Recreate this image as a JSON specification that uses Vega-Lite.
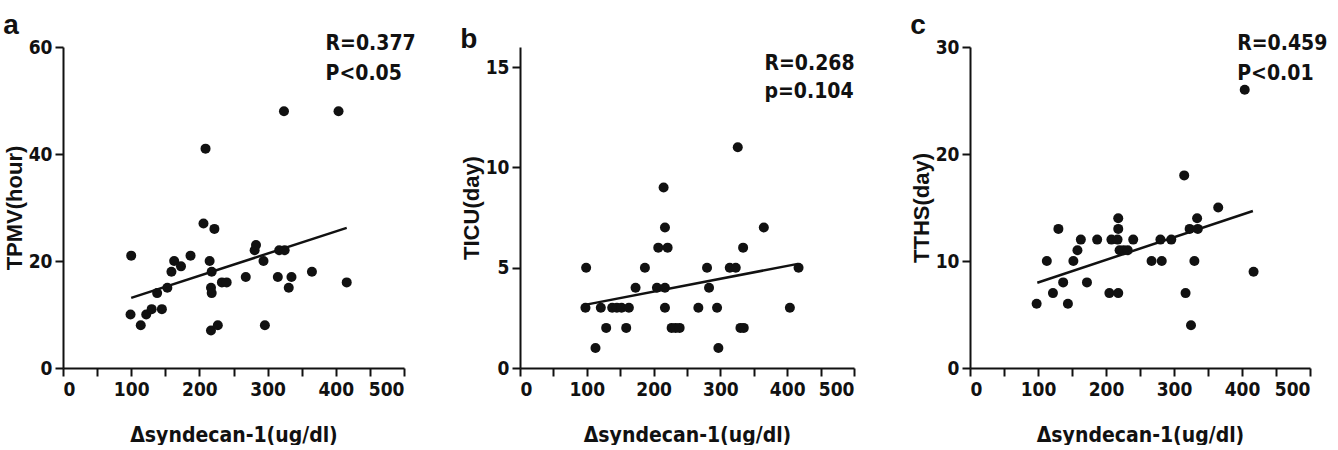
{
  "$schema": "https://vega.github.io/schema/vega-lite/v6.json",
  "background": "white",
  "padding": {"left": 3, "top": 11, "right": 5, "bottom": 0},
  "bounds": "flush",
  "spacing": 116,
  "config": {
    "view": {"stroke": null},
    "font": "DejaVu Sans Condensed, Liberation Sans, sans-serif",
    "axis": {
      "grid": false,
      "domainColor": "#111",
      "domainWidth": 2,
      "tickColor": "#111",
      "tickWidth": 2,
      "tickSize": 8,
      "labelFont": "DejaVu Sans Condensed, Liberation Sans, sans-serif",
      "labelFontWeight": "bold",
      "labelFontSize": 19,
      "labelColor": "#111",
      "titleFont": "DejaVu Sans Condensed, Liberation Sans, sans-serif",
      "titleFontWeight": "bold",
      "titleFontSize": 21,
      "titleColor": "#111"
    },
    "axisX": {"labelPadding": 4, "titlePadding": 25, "values": [0, 100, 200, 300, 400, 500]},
    "axisY": {"labelPadding": 3, "titlePadding": 2, "titleFont": "Liberation Sans, sans-serif", "titleFontSize": 22},
    "title": {"font": "Liberation Sans, sans-serif", "fontSize": 28, "fontWeight": "bold", "anchor": "start", "color": "#111", "offset": -7, "baseline": "alphabetic"}
  },
  "datasets": {
    "a": [
      {"x": 100, "y": 21}, {"x": 99, "y": 10}, {"x": 114, "y": 8}, {"x": 122, "y": 10}, {"x": 130, "y": 11},
      {"x": 138, "y": 14}, {"x": 145, "y": 11}, {"x": 153, "y": 15}, {"x": 159, "y": 18}, {"x": 163, "y": 20},
      {"x": 173, "y": 19}, {"x": 187, "y": 21}, {"x": 206, "y": 27}, {"x": 209, "y": 41}, {"x": 215, "y": 20},
      {"x": 218, "y": 18}, {"x": 217, "y": 15}, {"x": 218, "y": 14}, {"x": 222, "y": 26}, {"x": 217, "y": 7},
      {"x": 227, "y": 8}, {"x": 233, "y": 16}, {"x": 240, "y": 16}, {"x": 268, "y": 17}, {"x": 281, "y": 22},
      {"x": 283, "y": 23}, {"x": 294, "y": 20}, {"x": 296, "y": 8}, {"x": 315, "y": 17}, {"x": 317, "y": 22},
      {"x": 325, "y": 22}, {"x": 324, "y": 48}, {"x": 331, "y": 15}, {"x": 335, "y": 17}, {"x": 365, "y": 18},
      {"x": 404, "y": 48}, {"x": 416, "y": 16}
    ],
    "a_line": [{"x": 100, "y": 13.1}, {"x": 416, "y": 26.2}],
    "a_txt": [{"x": 385, "y": 60.6, "label": "R=0.377"}, {"x": 385, "y": 55.0, "label": "P<0.05"}],
    "b": [
      {"x": 99, "y": 5}, {"x": 98, "y": 3}, {"x": 113, "y": 1}, {"x": 121, "y": 3}, {"x": 129, "y": 2},
      {"x": 138, "y": 3}, {"x": 145, "y": 3}, {"x": 152, "y": 3}, {"x": 159, "y": 2}, {"x": 163, "y": 3},
      {"x": 173, "y": 4}, {"x": 187, "y": 5}, {"x": 205, "y": 4}, {"x": 207, "y": 6}, {"x": 215, "y": 9},
      {"x": 217, "y": 7}, {"x": 217, "y": 4}, {"x": 217, "y": 3}, {"x": 221, "y": 6}, {"x": 227, "y": 2},
      {"x": 233, "y": 2}, {"x": 239, "y": 2}, {"x": 267, "y": 3}, {"x": 280, "y": 5}, {"x": 283, "y": 4},
      {"x": 295, "y": 3}, {"x": 297, "y": 1}, {"x": 314, "y": 5}, {"x": 323, "y": 5}, {"x": 326, "y": 11},
      {"x": 330, "y": 2}, {"x": 335, "y": 2}, {"x": 334, "y": 6}, {"x": 365, "y": 7}, {"x": 404, "y": 3},
      {"x": 417, "y": 5}
    ],
    "b_line": [{"x": 99, "y": 3.16}, {"x": 416, "y": 5.19}],
    "b_txt": [{"x": 366, "y": 15.14, "label": "R=0.268"}, {"x": 366, "y": 13.74, "label": "p=0.104"}],
    "c": [
      {"x": 98, "y": 6}, {"x": 113, "y": 10}, {"x": 122, "y": 7}, {"x": 130, "y": 13}, {"x": 137, "y": 8},
      {"x": 144, "y": 6}, {"x": 152, "y": 10}, {"x": 158, "y": 11}, {"x": 163, "y": 12}, {"x": 172, "y": 8},
      {"x": 187, "y": 12}, {"x": 205, "y": 7}, {"x": 208, "y": 12}, {"x": 218, "y": 7}, {"x": 218, "y": 14},
      {"x": 218, "y": 13}, {"x": 217, "y": 12}, {"x": 220, "y": 11}, {"x": 226, "y": 11}, {"x": 232, "y": 11},
      {"x": 240, "y": 12}, {"x": 267, "y": 10}, {"x": 280, "y": 12}, {"x": 282, "y": 10}, {"x": 296, "y": 12},
      {"x": 315, "y": 18}, {"x": 317, "y": 7}, {"x": 323, "y": 13}, {"x": 325, "y": 4}, {"x": 330, "y": 10},
      {"x": 334, "y": 14}, {"x": 335, "y": 13}, {"x": 365, "y": 15}, {"x": 404, "y": 26}, {"x": 417, "y": 9}
    ],
    "c_line": [{"x": 99, "y": 7.97}, {"x": 416, "y": 14.67}],
    "c_txt": [{"x": 393, "y": 30.28, "label": "R=0.459"}, {"x": 393, "y": 27.48, "label": "P<0.01"}]
  },
  "hconcat": [
    {
      "width": 341, "height": 321,
      "title": {"text": "a"},
      "layer": [
        {"data": {"name": "a"}, "mark": {"type": "point", "filled": true, "shape": "circle", "size": 100, "color": "#111", "opacity": 1},
         "encoding": {
           "x": {"field": "x", "type": "quantitative", "scale": {"domain": [0, 500]}, "axis": {"title": "Δsyndecan-1(ug/dl)"}},
           "y": {"field": "y", "type": "quantitative", "scale": {"domain": [0, 60]}, "axis": {"title": "TPMV(hour)", "values": [0, 20, 40, 60]}}}},
        {"data": {"name": "a_line"}, "mark": {"type": "line", "color": "#111", "strokeWidth": 2.5},
         "encoding": {"x": {"field": "x", "type": "quantitative"}, "y": {"field": "y", "type": "quantitative"}}},
        {"data": {"name": "a_txt"}, "mark": {"type": "text", "align": "left", "baseline": "middle", "fontSize": 21, "fontWeight": "bold", "color": "#111"},
         "encoding": {"x": {"field": "x", "type": "quantitative"}, "y": {"field": "y", "type": "quantitative"}, "text": {"field": "label"}}}
      ]
    },
    {
      "width": 334, "height": 321,
      "title": {"text": "b"},
      "layer": [
        {"data": {"name": "b"}, "mark": {"type": "point", "filled": true, "shape": "circle", "size": 100, "color": "#111", "opacity": 1},
         "encoding": {
           "x": {"field": "x", "type": "quantitative", "scale": {"domain": [0, 500]}, "axis": {"title": "Δsyndecan-1(ug/dl)"}},
           "y": {"field": "y", "type": "quantitative", "scale": {"domain": [0, 15]}, "axis": {"title": "TICU(day)", "values": [0, 5, 10, 15]}}}},
        {"data": {"name": "b_line"}, "mark": {"type": "line", "color": "#111", "strokeWidth": 2.5},
         "encoding": {"x": {"field": "x", "type": "quantitative"}, "y": {"field": "y", "type": "quantitative"}}},
        {"data": {"name": "b_txt"}, "mark": {"type": "text", "align": "left", "baseline": "middle", "fontSize": 21, "fontWeight": "bold", "color": "#111"},
         "encoding": {"x": {"field": "x", "type": "quantitative"}, "y": {"field": "y", "type": "quantitative"}, "text": {"field": "label"}}}
      ]
    },
    {
      "width": 340, "height": 321,
      "title": {"text": "c"},
      "layer": [
        {"data": {"name": "c"}, "mark": {"type": "point", "filled": true, "shape": "circle", "size": 100, "color": "#111", "opacity": 1},
         "encoding": {
           "x": {"field": "x", "type": "quantitative", "scale": {"domain": [0, 500]}, "axis": {"title": "Δsyndecan-1(ug/dl)"}},
           "y": {"field": "y", "type": "quantitative", "scale": {"domain": [0, 30]}, "axis": {"title": "TTHS(day)", "values": [0, 10, 20, 30]}}}},
        {"data": {"name": "c_line"}, "mark": {"type": "line", "color": "#111", "strokeWidth": 2.5},
         "encoding": {"x": {"field": "x", "type": "quantitative"}, "y": {"field": "y", "type": "quantitative"}}},
        {"data": {"name": "c_txt"}, "mark": {"type": "text", "align": "left", "baseline": "middle", "fontSize": 21, "fontWeight": "bold", "color": "#111"},
         "encoding": {"x": {"field": "x", "type": "quantitative"}, "y": {"field": "y", "type": "quantitative"}, "text": {"field": "label"}}}
      ]
    }
  ]
}
